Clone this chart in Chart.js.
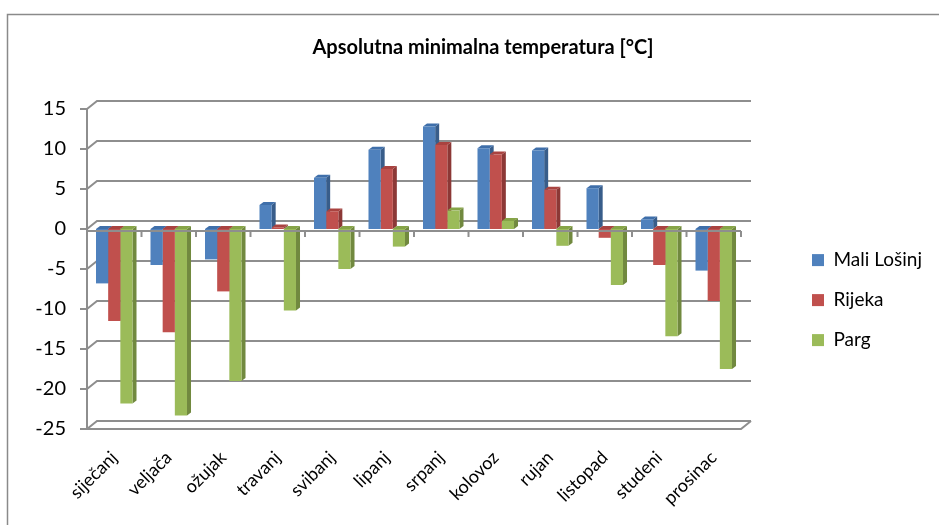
<!DOCTYPE html>
<html>
<head>
<meta charset="utf-8">
<script src="https://cdn.jsdelivr.net/npm/chart.js@4/dist/chart.umd.min.js"></script>
<style>
  html, body { margin: 0; padding: 0; background: #ffffff; }
  canvas { display: block; }
</style>
</head>
<body>
<canvas id="c" width="939" height="525"></canvas>
<script>
const titleText = 'Apsolutna minimalna temperatura [°C]';
const months = ['siječanj', 'veljača', 'ožujak', 'travanj', 'svibanj', 'lipanj', 'srpanj', 'kolovoz', 'rujan', 'listopad', 'studeni', 'prosinac'];
const seriesNames = ['Mali Lošinj', 'Rijeka', 'Parg'];
const maliLosinj = [-6.8, -4.5, -3.8, 3.0, 6.4, 9.9, 12.8, 10.1, 9.8, 5.1, 1.2, -5.2];
const rijeka = [-11.5, -12.9, -7.8, 0.2, 2.2, 7.5, 10.5, 9.3, 4.9, -1.1, -4.5, -9.0];
const parg = [-21.8, -23.3, -19.0, -10.2, -5.0, -2.2, 2.3, 1.0, -2.1, -7.0, -13.4, -17.5];
const yTicks = [15, 10, 5, 0, -5, -10, -15, -20, -25];

const frontColors = ['#4F81BD', '#C0504D', '#9BBB59'];
const sideColors = ['#385D8A', '#8C3836', '#71893F'];
const topColors = ['#3F6FAA', '#A94340', '#86A447'];
const FONT = 'Lato';
const GRID = '#8e8e8e';
const DX = 10, DY = -8;   // wall depth
const BDX = 4, BDY = -3;  // bar depth

const walls = {
  id: 'walls',
  beforeDraw(chart) {
    const ctx = chart.ctx;
    ctx.save();
    ctx.fillStyle = '#ffffff';
    ctx.fillRect(0, 0, chart.width, chart.height);
    ctx.strokeStyle = '#8a8a8a';
    ctx.lineWidth = 1.5;
    ctx.strokeRect(7.5, 14.5, 1000, 1000);
    ctx.restore();
  },
  beforeDatasetsDraw(chart) {
    const ctx = chart.ctx;
    const ys = chart.scales.y;
    const L = chart.chartArea.left, R = chart.chartArea.right;
    ctx.save();
    ctx.strokeStyle = GRID;
    ctx.lineWidth = 2;
    ctx.lineJoin = 'miter';
    const yTop = ys.getPixelForValue(yTicks[0]);
    const yBot = ys.getPixelForValue(yTicks[yTicks.length - 1]);
    yTicks.forEach(v => {
      const y = ys.getPixelForValue(v);
      ctx.beginPath();
      ctx.moveTo(L, y);
      ctx.lineTo(L + DX, y + DY);
      ctx.lineTo(R + DX, y + DY);
      ctx.stroke();
      ctx.beginPath();
      ctx.moveTo(L - 7, y);
      ctx.lineTo(L, y);
      ctx.stroke();
    });
    // floor front edge
    ctx.beginPath();
    ctx.moveTo(L, yBot);
    ctx.lineTo(R, yBot);
    ctx.lineTo(R + DX, yBot + DY);
    ctx.stroke();
    // left axis
    ctx.beginPath();
    ctx.moveTo(L, yTop);
    ctx.lineTo(L, yBot);
    ctx.stroke();
    // 3D side / top faces of bars
    chart.data.datasets.forEach((ds, di) => {
      const meta = chart.getDatasetMeta(di);
      meta.data.forEach(bar => {
        const hw = bar.width / 2;
        const l = bar.x - hw, r = bar.x + hw;
        const top = Math.min(bar.y, bar.base);
        const bot = Math.max(bar.y, bar.base);
        ctx.fillStyle = sideColors[di];
        ctx.beginPath();
        ctx.moveTo(r, top);
        ctx.lineTo(r + BDX, top + BDY);
        ctx.lineTo(r + BDX, bot + BDY);
        ctx.lineTo(r, bot);
        ctx.closePath();
        ctx.fill();
        ctx.fillStyle = topColors[di];
        ctx.beginPath();
        ctx.moveTo(l, top);
        ctx.lineTo(l + BDX, top + BDY);
        ctx.lineTo(r + BDX, top + BDY);
        ctx.lineTo(r, top);
        ctx.closePath();
        ctx.fill();
      });
    });
    ctx.restore();
  },
  afterDatasetsDraw(chart) {
    const ctx = chart.ctx;
    const ys = chart.scales.y;
    const L = chart.chartArea.left, R = chart.chartArea.right;
    const y0 = ys.getPixelForValue(0) + 2;
    ctx.save();
    ctx.strokeStyle = GRID;
    ctx.lineWidth = 2;
    ctx.beginPath();
    ctx.moveTo(L, y0);
    ctx.lineTo(R, y0);
    ctx.stroke();
    const n = months.length;
    const step = (R - L) / n;
    for (let i = 1; i <= n; i++) {
      const x = L + i * step;
      ctx.beginPath();
      ctx.moveTo(x, y0);
      ctx.lineTo(x, y0 + 6);
      ctx.stroke();
    }
    ctx.restore();
  }
};

const datasets = [maliLosinj, rijeka, parg].map((vals, i) => ({
  label: seriesNames[i],
  data: vals,
  backgroundColor: frontColors[i],
  borderWidth: 0,
  categoryPercentage: 0.67,
  barPercentage: 1.0
}));

new Chart(document.getElementById('c'), {
  type: 'bar',
  data: { labels: months, datasets },
  plugins: [walls],
  options: {
    responsive: false,
    devicePixelRatio: 1,
    animation: false,
    layout: { padding: { left: 34, right: 7, top: 0, bottom: 0 } },
    plugins: {
      title: {
        display: true,
        text: titleText,
        color: '#000000',
        font: { family: FONT, size: 20, weight: 'bold' },
        padding: { top: 36, bottom: 49 }
      },
      legend: {
        position: 'right',
        align: 'center',
        title: { display: true, text: '', padding: { top: 74, bottom: 0 }, font: { size: 1 } },
        labels: {
          boxWidth: 12,
          boxHeight: 12,
          padding: 21,
          color: '#000000',
          font: { family: FONT, size: 19 }
        }
      },
      tooltip: { enabled: false }
    },
    scales: {
      x: {
        grid: { display: false },
        border: { display: false },
        ticks: {
          autoSkip: false,
          maxRotation: 45,
          minRotation: 45,
          padding: 10,
          color: '#000000',
          font: { family: FONT, size: 18 }
        },
        afterFit(s) { s.height = 96; }
      },
      y: {
        min: -25,
        max: 15,
        grid: { display: false, drawTicks: false },
        border: { display: false },
        ticks: {
          stepSize: 5,
          padding: 21,
          color: '#000000',
          font: { family: FONT, size: 20 }
        },
        afterFit(s) { s.width = 53; }
      },
      y2: {
        position: 'right',
        display: true,
        grid: { display: false, drawTicks: false },
        border: { display: false },
        ticks: { display: false },
        afterFit(s) { s.width = 50; }
      }
    }
  }
});
</script>
</body>
</html>
